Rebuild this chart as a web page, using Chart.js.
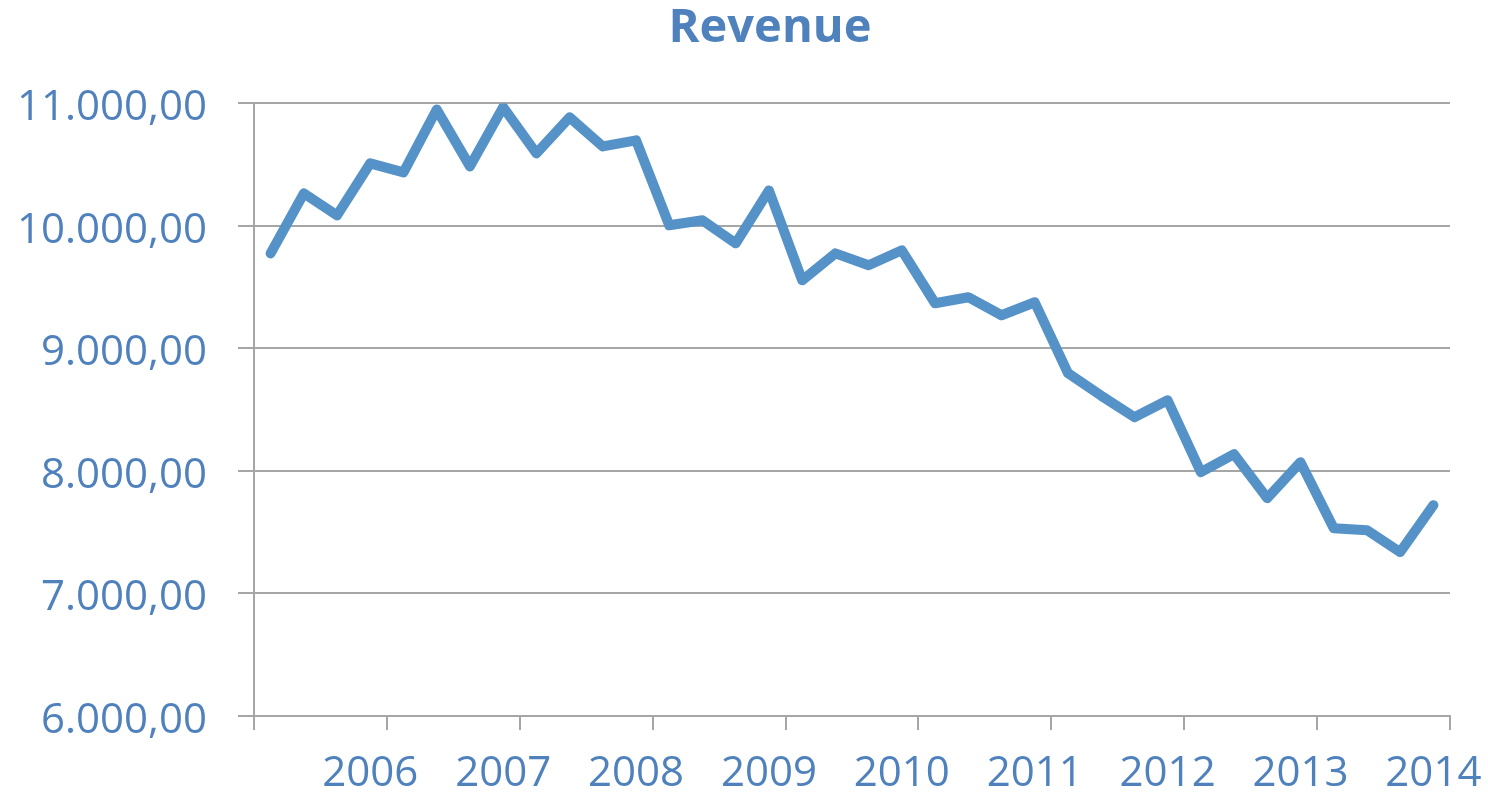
<!DOCTYPE html>
<html>
<head>
<meta charset="utf-8">
<script src="https://cdn.jsdelivr.net/npm/chart.js@4/dist/chart.umd.min.js"></script>
<style>
  html, body { margin: 0; padding: 0; background: #fff; }
  #wrap { width: 1488px; height: 801px; }
</style>
</head>
<body>
<div id="wrap"><canvas id="grafico"></canvas></div>
<script>
// years shown under the axis, one label per 4 quarters
const anios = ['2006', '2007', '2008', '2009', '2010', '2011', '2012', '2013', '2014'];

// quarterly revenue
const revenue = [
    9776, 10266, 10086, 10511,
    10437, 10950, 10486, 10970,
    10592, 10886, 10649, 10698,
    10005, 10046, 9858, 10290,
    9556, 9776, 9679, 9801,
    9369, 9418, 9271, 9377,
    8798, 8614, 8439, 8577,
    7990, 8137, 7778, 8072,
    7533, 7517, 7338, 7721
];

const azulTexto = '#4F81BD';
const azulLinea = '#5592C8';
const gris = '#A6A6A6';

// category labels: the year sits on the last quarter of each group
let labels = [];
anios.forEach(function(anio){
    labels.push('', '', '', anio);
});

function formatoNumero(v){
    let partes = Math.round(v).toString().replace(/\B(?=(\d{3})+(?!\d))/g, '.');
    return partes + ',00';
}

// the title in the original is centred a bit right of the canvas middle
const moverTitulo = {
    id: 'moverTitulo',
    afterLayout: function(chart){
        if (chart.titleBlock) chart.titleBlock.left += 90;
    }
};

const ctx = document.getElementById('grafico');

new Chart(ctx, {
    type: 'line',
    plugins: [moverTitulo],
    data: {
        labels: labels,
        datasets: [{
            label: 'Revenue',
            data: revenue,
            borderColor: azulLinea,
            borderWidth: 10,
            pointRadius: 0,
            tension: 0,
            borderJoinStyle: 'round',
            borderCapStyle: 'round',
            fill: false
        }]
    },
    options: {
        responsive: true,
        maintainAspectRatio: false,
        animation: false,
        layout: {
            padding: { left: 0, right: 38, top: 0, bottom: 0 }
        },
        plugins: {
            legend: { display: false },
            tooltip: { enabled: false },
            title: {
                display: true,
                text: 'Revenue',
                color: azulTexto,
                font: { family: 'Open Sans', size: 47, weight: 'bold' },
                padding: { top: 0, bottom: 47 }
            }
        },
        scales: {
            x: {
                offset: true,
                grid: {
                    offset: true,
                    drawOnChartArea: false,
                    drawTicks: true,
                    tickLength: 14,
                    lineWidth: 2,
                    color: function(c){
                        if (c.index === undefined || c.index % 4 === 0) return gris;
                        return 'rgba(0,0,0,0)';
                    }
                },
                border: { display: true, color: gris, width: 2 },
                ticks: {
                    autoSkip: false,
                    maxRotation: 0,
                    color: azulTexto,
                    padding: 19,
                    font: { family: 'Open Sans', size: 42 }
                },
                afterFit: function(scale){
                    scale.height = 85;
                    scale.paddingRight = 0;
                }
            },
            y: {
                min: 6000,
                max: 11000,
                grid: {
                    color: gris,
                    lineWidth: 2,
                    tickLength: 16
                },
                border: { display: true, color: gris, width: 2 },
                ticks: {
                    stepSize: 1000,
                    color: azulTexto,
                    padding: 31,
                    labelOffset: 5,
                    font: { family: 'Open Sans', size: 42 },
                    callback: function(v){ return formatoNumero(v); }
                },
                afterFit: function(scale){ scale.width = 254; }
            }
        }
    }
});
</script>
</body>
</html>
